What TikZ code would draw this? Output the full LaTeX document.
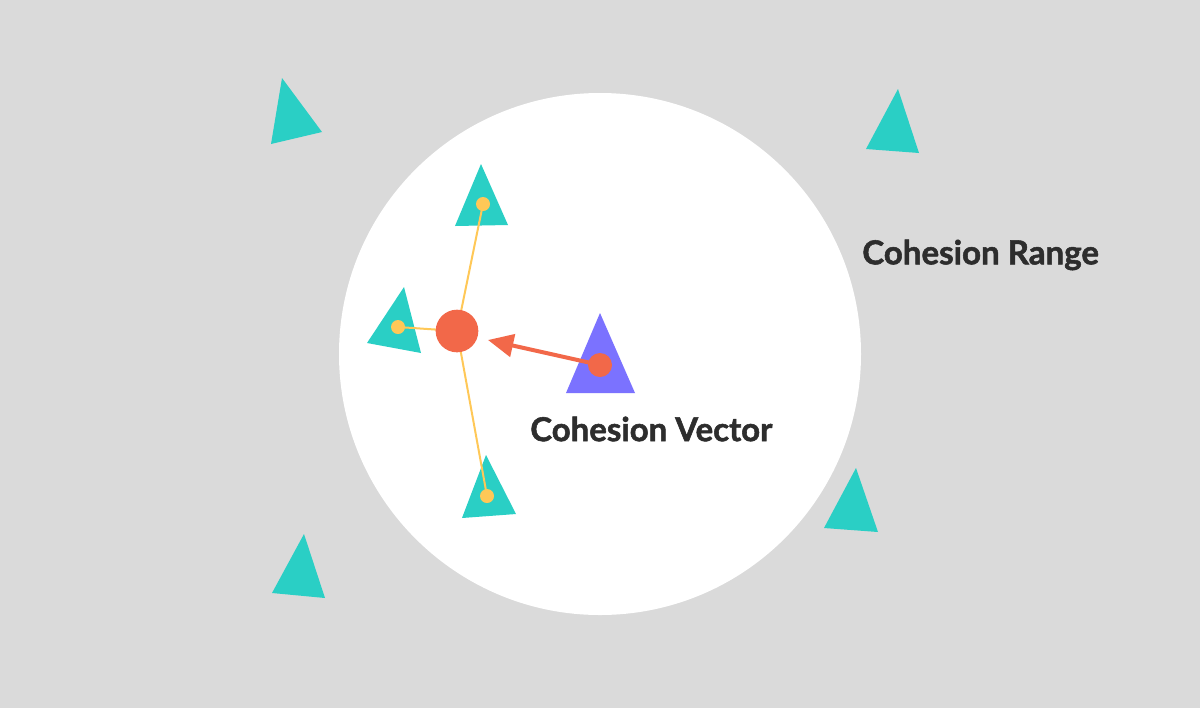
\documentclass[tikz,border=0pt]{standalone}
\usepackage{fontspec}
\setmainfont{Lato}[BoldFeatures={FakeBold=1.6}]
\usetikzlibrary{arrows.meta}
\definecolor{bg}{HTML}{DADADA}
\definecolor{teal}{HTML}{2ACFC5}
\definecolor{coral}{HTML}{F26849}
\definecolor{sun}{HTML}{FFC857}
\definecolor{violet}{HTML}{7B72FF}
\definecolor{ink}{HTML}{2D2D2D}
\tikzset{
  boid/.style={fill=teal},
  leader/.style={fill=violet},
  link/.style={draw=sun, line width=1.5pt},
  pin/.style={circle, fill=sun, inner sep=0pt, minimum size=10.5pt},
  center/.style={circle, fill=coral, inner sep=0pt, minimum size=32pt},
  heading/.style={circle, fill=coral, inner sep=0pt, minimum size=18pt},
  vec/.style={draw=coral, line width=3pt, -{Triangle[length=19pt,width=17pt]}},
  label/.style={text=ink, font=\bfseries, inner sep=0pt}
}
\begin{document}
\begin{tikzpicture}[x=0.75pt, y=-0.75pt]
  % canvas
  \fill[bg] (0,0) rectangle (1200,708);
  \useasboundingbox (0,0) rectangle (1200,708);

  % cohesion range
  \fill[white] (600,354) circle (261);

  % boids outside the range
  \fill[boid] (282,78) -- (322,132) -- (271,144) -- cycle;
  \fill[boid] (898,89) -- (919,153) -- (866,149) -- cycle;
  \fill[boid] (856,468) -- (878,532) -- (824,528) -- cycle;
  \fill[boid] (304,534) -- (325,598) -- (272,593) -- cycle;

  % neighbours inside the range
  \fill[boid] (481,164) -- (508,225) -- (455,226) -- cycle;
  \fill[boid] (404,287) -- (421,353) -- (367,343) -- cycle;
  \fill[boid] (486,455) -- (516,514) -- (462,518) -- cycle;

  % the boid itself
  \fill[leader] (600,313) -- (635,393) -- (566,393) -- cycle;

  % positions
  \coordinate (cm) at (457,331);
  \coordinate (n1) at (483,204);
  \coordinate (n2) at (398,327);
  \coordinate (n3) at (487,496);
  \coordinate (self) at (600,365);
  \coordinate (tip) at (488,340);

  % links to the centre of mass
  \draw[link] (cm) -- (n1);
  \draw[link] (cm) -- (n2);
  \draw[link] (cm) -- (n3);

  \node[pin] (p1) at (n1) {};
  \node[pin] (p2) at (n2) {};
  \node[pin] (p3) at (n3) {};
  \node[center] (mass) at (cm) {};

  % cohesion vector
  \draw[vec] (self) -- (tip);
  \node[heading] (me) at (self) {};

  % labels
  \node[label, anchor=west] (lv) at (530,429) {\resizebox{181.5pt}{!}{Cohesion Vector}};
  \node[label, anchor=west] (lr) at (862,255) {\resizebox{177.5pt}{!}{Cohesion Range}};
\end{tikzpicture}
\end{document}
